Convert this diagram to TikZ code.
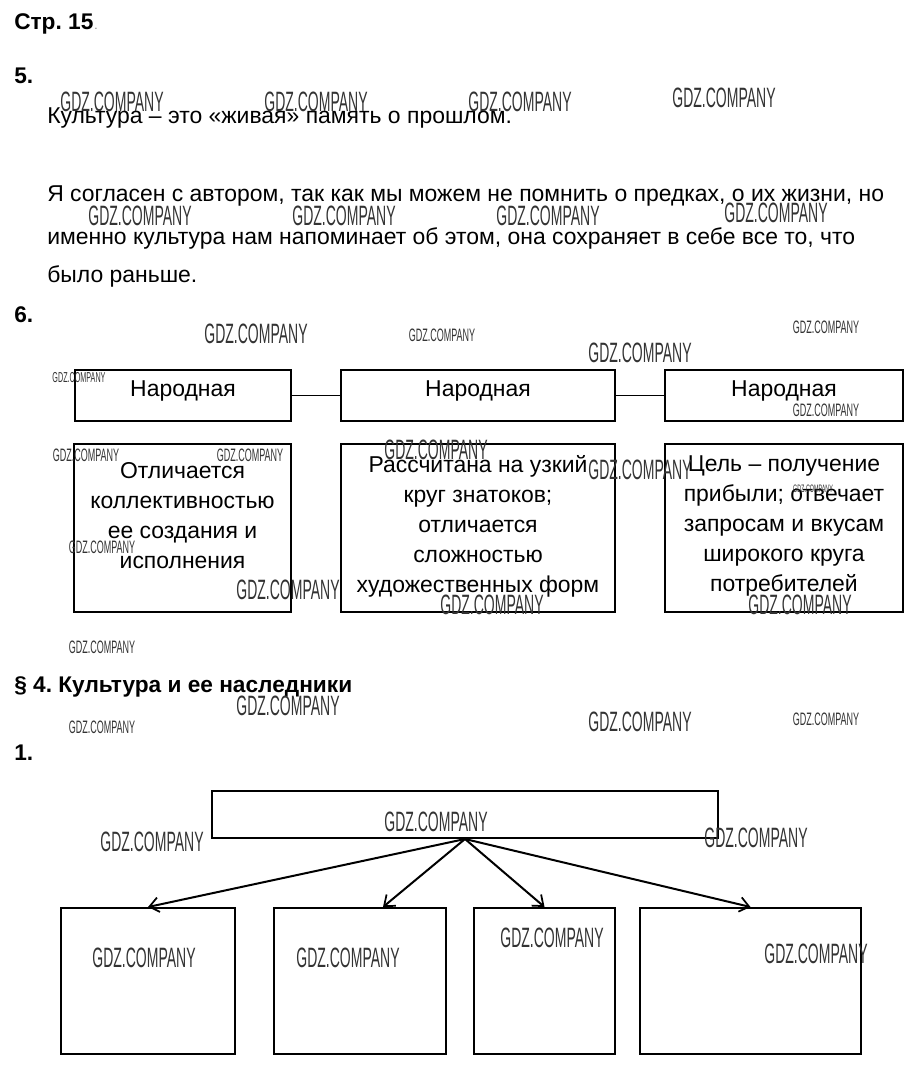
\documentclass[tikz,border=0pt]{standalone}
\usepackage{fontspec}
\setmainfont{Liberation Sans}
\usetikzlibrary{arrows.meta,calc}
\frenchspacing
\newcommand\wmbig{\scalebox{0.5}[1]{\fontsize{21}{21}\selectfont GDZ.COMPANY}}
\newcommand\wmsmall{\scalebox{0.5}[1]{\fontsize{13.5}{13.5}\selectfont GDZ.COMPANY}}
\tikzset{
  body/.style={anchor=base west,inner sep=0pt,font=\fontsize{17.2}{22.5}\selectfont},
  head/.style={anchor=base west,inner sep=0pt,font=\fontsize{17}{18}\selectfont\bfseries},
  box/.style={draw,line width=1.5pt,inner sep=0pt},
  boxtext/.style={inner sep=0pt,align=center,font=\fontsize{17.2}{22.5}\selectfont},
  wmL/.style={inner sep=0pt,text=black!80},
  wmS/.style={inner sep=0pt,text=black!80},
  arr/.style={line width=1.5pt,-{Straight Barb[length=7pt,width=11pt,line width=1.3pt]}},
  link/.style={line width=1pt}
}
\begin{document}
\begin{tikzpicture}[x=0.75pt,y=-0.75pt]
\useasboundingbox[fill=white] (0,0) rectangle (919,1073);
% headings and text
\node[head] (h1) at (14,30) {Стр. 15};
\node[anchor=base west,inner sep=0pt,text=black!50,font=\fontsize{9}{9}\selectfont] (h1dot) at (94,30) {.};
\node[head] (h5) at (14,84) {5.};
\node[body] (p1) at (47,124) {Культура – это «живая» память о прошлом.};
\node[body] (p2) at (47,202) {Я согласен с автором, так как мы можем не помнить о предках, о их жизни, но};
\node[body] (p3) at (47,244) {именно культура нам напоминает об этом, она сохраняет в себе все то, что};
\node[body] (p4) at (47,282) {было раньше.};
\node[head] (h6) at (14,322) {6.};
% row 1
\node[box,minimum width=162pt,minimum height=38.25pt] (a1) at (183,395.5) {};
\node[box,minimum width=205.5pt,minimum height=38.25pt] (a2) at (478,395.5) {};
\node[box,minimum width=178.5pt,minimum height=38.25pt] (a3) at (784,395.5) {};
\node[boxtext] (a1t) at (183,391) {Народная};
\node[boxtext] (a2t) at (478,391) {Народная};
\node[boxtext] (a3t) at (784,391) {Народная};
\draw[link] (a1.east) -- (a2.west);
\draw[link] (a2.east) -- (a3.west);
% row 2
\node[box,minimum width=162.75pt,minimum height=126pt] (b1) at (182.5,528) {};
\node[box,minimum width=205.5pt,minimum height=126pt] (b2) at (478,528) {};
\node[box,minimum width=178.5pt,minimum height=126pt] (b3) at (784,528) {};
\node[boxtext] (b1t) at (182.5,516) {Отличается\\коллективностью\\ее создания и\\исполнения};
\node[boxtext] (b2t) at (478,526) {Рассчитана на узкий\\круг знатоков;\\отличается\\сложностью\\художественных форм};
\node[boxtext] (b3t) at (784,526) {Цель – получение\\прибыли; отвечает\\запросам и вкусам\\широкого круга\\потребителей};
% section 4
\node[head] (h4) at (14,692) {§ 4. Культура и ее наследники};
\node[head] (h1b) at (14,760) {1.};
\node[box,minimum width=379.5pt,minimum height=35.25pt] (top) at (465,814.5) {};
\node[box,minimum width=130.5pt,minimum height=109.5pt] (d1) at (148,981) {};
\node[box,minimum width=129pt,minimum height=109.5pt] (d2) at (360,981) {};
\node[box,minimum width=105.75pt,minimum height=109.5pt] (d3) at (544.5,981) {};
\node[box,minimum width=165.75pt,minimum height=109.5pt] (d4) at (750.5,981) {};
\draw[arr] (top.south) -- (d1.north);
\draw[arr] (top.south) -- ([xshift=17.25pt]d2.north);
\draw[arr] (top.south) -- (d3.north);
\draw[arr] (top.south) -- (d4.north);
% watermarks
\node[wmL] (w1) at (112,102) {\wmbig};
\node[wmL] (w2) at (316,102) {\wmbig};
\node[wmL] (w3) at (520,102) {\wmbig};
\node[wmL] (w4) at (724,98) {\wmbig};
\node[wmL] (w5) at (140,216) {\wmbig};
\node[wmL] (w6) at (344,216) {\wmbig};
\node[wmL] (w7) at (548,216) {\wmbig};
\node[wmL] (w8) at (776,213) {\wmbig};
\node[wmL] (w9) at (256,334) {\wmbig};
\node[wmS] (w10) at (442,335) {\wmsmall};
\node[wmS] (w11) at (826,327) {\wmsmall};
\node[wmL] (w12) at (640,353) {\wmbig};
\node[wmS] (w13) at (79,378) {\scalebox{0.8}{\wmsmall}};
\node[wmS] (w14) at (826,410) {\wmsmall};
\node[wmS] (w15) at (86,455) {\wmsmall};
\node[wmS] (w16) at (250,455) {\wmsmall};
\node[wmL] (w17) at (436,450) {\wmbig};
\node[wmL] (w18) at (640,470) {\wmbig};
\node[wmS] (w19) at (813,489) {\scalebox{0.6}{\wmsmall}};
\node[wmS] (w20) at (102,547) {\wmsmall};
\node[wmL] (w21) at (288,590) {\wmbig};
\node[wmL] (w22) at (492,605) {\wmbig};
\node[wmL] (w23) at (800,605) {\wmbig};
\node[wmS] (w24) at (102,647) {\wmsmall};
\node[wmL] (w25) at (288,706) {\wmbig};
\node[wmS] (w26) at (102,727) {\wmsmall};
\node[wmL] (w27) at (640,722) {\wmbig};
\node[wmS] (w28) at (826,719) {\wmsmall};
\node[wmL] (w29) at (436,822) {\wmbig};
\node[wmL] (w30) at (152,842) {\wmbig};
\node[wmL] (w31) at (756,838) {\wmbig};
\node[wmL] (w32) at (144,958) {\wmbig};
\node[wmL] (w33) at (348,958) {\wmbig};
\node[wmL] (w34) at (552,938) {\wmbig};
\node[wmL] (w35) at (816,954) {\wmbig};
\end{tikzpicture}
\end{document}
